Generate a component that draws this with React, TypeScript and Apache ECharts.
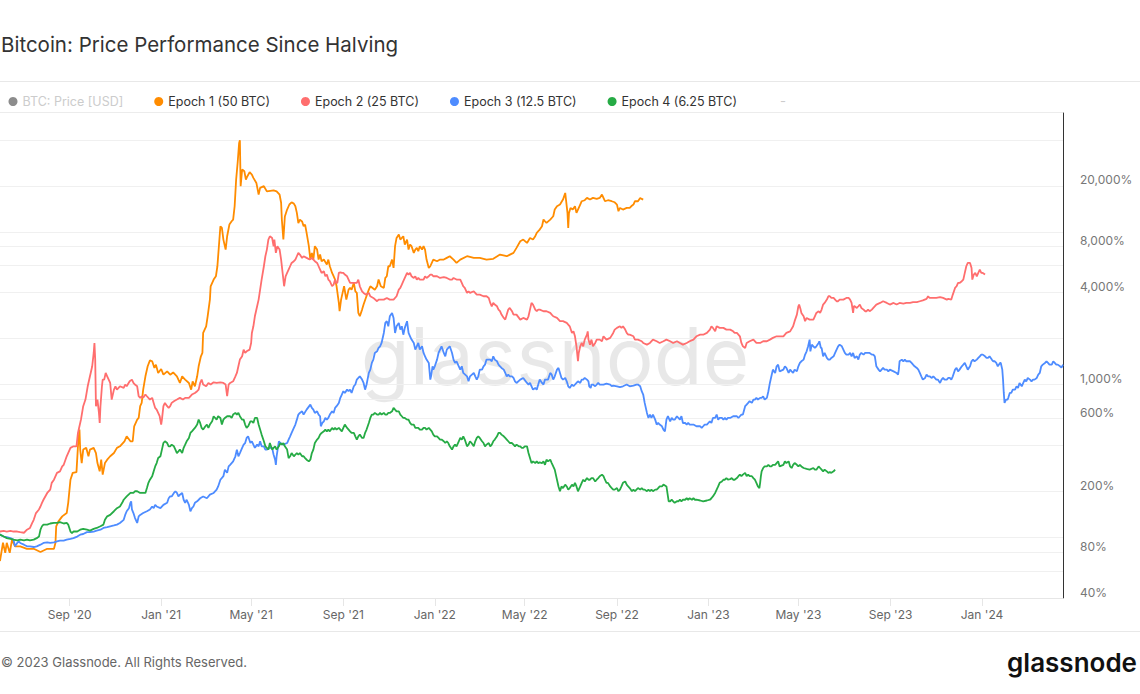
import React, { useEffect, useRef } from 'react';
import * as echarts from 'echarts';

// ---------- data (days since halving, performance in %) ----------
const HALVING_START = Date.UTC(2020, 4, 11);
const DAY_MS = 86400000;
const X_MAX_DAY = 1438;

const xTickDates = ['2020-09-01', '2021-01-01', '2021-05-01', '2021-09-01', '2022-01-01', '2022-05-01', '2022-09-01', '2023-01-01', '2023-05-01', '2023-09-01', '2024-01-01'];
const yGridValues = [40, 60, 80, 100, 200, 400, 600, 800, 1000, 2000, 4000, 6000, 8000, 10000, 20000, 40000];
const yLabelValues = [40, 80, 200, 600, 1000, 4000, 8000, 20000];

const seriesNames = ['BTC: Price [USD]', 'Epoch 1 (50 BTC)', 'Epoch 2 (25 BTC)', 'Epoch 3 (12.5 BTC)', 'Epoch 4 (6.25 BTC)'];
const seriesColors = ['#8c8c8c', '#ff8c00', '#ff6e6e', '#4e8cff', '#26ab45'];

const btcPrice: [number, number][] = [];

const epoch1: [number, number][] = [
  [0, 100], [20, 70], [24, 92], [27, 79], [29, 92], [33, 79], [36, 96], [40, 87], [47, 87], [56, 84], [65, 84], [74, 80], [83, 84], [92, 84], [94, 92], [95, 118], [98, 127], [103, 137], [109, 144], [111, 168], [114, 238], [117, 264], [122, 267], [124, 394], [126, 507], [127, 375], [129, 306], [131, 375], [135, 385], [138, 339], [140, 375], [145, 385], [148, 356], [150, 306], [153, 270], [155, 322], [157, 257], [160, 306], [163, 322], [167, 339], [172, 356], [176, 385], [180, 394], [186, 425], [189, 458], [194, 425], [197, 425], [199, 533], [203, 589], [205, 604], [207, 721], [209, 758], [211, 926], [214, 1132], [217, 1317], [220, 1440], [223, 1420], [226, 1284], [228, 1350], [231, 1191], [235, 1264], [238, 1160], [243, 1220], [247, 1160], [251, 1200], [256, 1132], [260, 1024], [263, 1132], [267, 1077], [272, 1024], [275, 926], [277, 1050], [280, 974], [283, 1132], [285, 1317], [288, 1531], [290, 1610], [291, 2177], [295, 2407], [297, 2799], [300, 3599], [301, 4401], [305, 4867], [308, 5117], [310, 5951], [312, 8045], [314, 10877], [316, 10600], [318, 8896], [321, 7651], [323, 9355], [326, 11150], [329, 11730], [331, 12027], [333, 14707], [335, 21986], [337, 28270], [339, 38224], [340, 39800], [341, 19882], [343, 25566], [346, 24900], [348, 22000], [350, 23120], [353, 24560], [356, 23700], [358, 22550], [362, 20907], [365, 17540], [367, 19390],
  [372, 19900], [376, 18400], [385, 18700], [389, 18400], [393, 17500], [395, 15500], [396, 12000], [398, 8900], [400, 12600], [403, 14000], [406, 15100], [409, 15600], [412, 15300], [414, 14700], [416, 13300], [418, 11400], [420, 12000], [423, 11700], [425, 10900], [427, 11150], [429, 9840], [432, 8050], [434, 6580], [436, 7280], [438, 6580], [440, 8050], [443, 7650], [445, 6580], [447, 7100], [449, 6420], [452, 6580], [456, 6100], [458, 6580], [460, 5950], [463, 5380], [465, 5120], [467, 4870], [469, 4400], [472, 3420], [473, 3020], [475, 3600], [477, 3980], [479, 4400], [482, 3600], [485, 4180], [487, 4290], [489, 4180], [492, 4630], [494, 4080], [496, 3980], [498, 2944], [500, 2800], [503, 3095], [505, 3340], [508, 3690], [512, 4180], [514, 4400], [517, 4290], [520, 4180], [523, 4400], [525, 4870], [528, 4400], [532, 4290], [534, 4990], [536, 5120], [538, 5950], [540, 5950], [543, 6580], [545, 5800], [547, 8050], [549, 9120], [552, 9590], [554, 8900], [556, 9120], [558, 9355], [560, 8250], [563, 8900], [565, 7650], [567, 8250], [569, 8050], [572, 7280], [574, 7650], [576, 7850], [578, 7460], [580, 8050], [583, 7650], [585, 8050], [587, 7650], [589, 6580], [592, 5800], [594, 5950], [596, 6260], [598, 6580], [603, 6420], [607, 6580], [612, 6580], [616, 6750], [620, 6920], [625, 6580], [629, 6260], [634, 6580], [643, 6920], [652, 6750], [660, 6750], [669, 6580], [678, 6660], [687, 7100], [696, 6920], [705, 7280], [709, 7850],
  [714, 8680], [718, 8900], [723, 8460], [727, 9120], [731, 8900], [734, 9355], [736, 9840], [738, 10090], [740, 10340], [743, 10880], [745, 12030], [747, 11730], [749, 11440], [754, 12030], [758, 12650], [760, 13990], [763, 14700], [767, 15080], [771, 16260], [774, 17980], [775, 16260], [777, 13300], [778, 10600], [779, 13300], [781, 14340], [784, 13990], [787, 14700], [789, 13300], [791, 13990], [794, 15080], [796, 15860], [800, 16100], [803, 16680], [807, 16260], [811, 16680], [816, 16430], [820, 16680], [823, 17540], [825, 16680], [827, 15860], [831, 16100], [836, 15860], [840, 15620], [843, 15080], [845, 13640], [847, 14340], [851, 13990], [856, 14340], [860, 14340], [862, 14700], [865, 15080], [867, 15860], [871, 15860], [874, 16680], [876, 16430], [878, 16260],
];

const epoch2: [number, number][] = [
  [0, 100], [20, 109], [25, 110], [29, 109], [34, 110], [38, 109], [43, 109], [47, 108], [52, 107], [56, 112], [60, 115], [63, 124], [65, 130], [68, 144], [72, 152], [74, 159], [76, 168], [78, 176], [83, 195], [87, 205], [89, 227], [92, 238], [96, 264], [100, 270], [103, 291], [105, 298], [109, 339], [114, 385], [118, 394], [122, 394], [124, 482], [126, 533], [128, 589], [131, 721], [134, 797], [137, 974], [140, 1132], [141, 1191], [143, 1317], [145, 1610], [146, 1872], [147, 1456], [148, 721], [150, 797], [152, 652], [153, 560], [154, 721], [156, 974], [157, 1077], [159, 1077], [161, 1191], [163, 1132], [165, 1077], [167, 1024], [169, 797], [172, 926], [174, 974], [176, 926], [180, 974], [185, 950], [187, 1000], [189, 974], [193, 1050], [196, 1077], [198, 1024], [200, 1000], [203, 974], [205, 838], [207, 818], [209, 838], [211, 818], [214, 860], [216, 838], [220, 797], [223, 818], [225, 758], [227, 703], [229, 685], [233, 620], [235, 547], [236, 589], [238, 721], [240, 758], [243, 721], [245, 703], [247, 721], [249, 758], [252, 778], [256, 797], [260, 818], [264, 797], [267, 818], [272, 818], [276, 860], [280, 881], [283, 904], [285, 926], [287, 1024], [289, 1077], [291, 1000], [295, 974], [298, 1024], [301, 1000], [305, 1034], [309, 1024], [314, 1034], [318, 1024], [321, 1000], [323, 838], [325, 1000], [327, 1024], [331, 1050], [334, 1132], [336, 1191], [338, 1317], [340, 1456], [343, 1531], [345, 1693], [347, 1610], [349, 1650], [353, 1693], [355, 1872], [356, 2177], [358, 2407], [360, 2799], [363, 3255], [365, 3599], [367, 4185], [369, 4867], [372, 5951], [374, 6919], [376, 7651], [378, 8896], [380, 9355],
  [383, 9120], [385, 8045], [386, 8896], [388, 7276], [390, 8045], [393, 7651], [395, 6580], [397, 5381], [399, 4401], [401, 5117], [403, 5381], [405, 5659], [407, 5951], [409, 6257], [412, 6420], [414, 6580], [416, 6919], [418, 7276], [420, 7100], [423, 6750], [425, 6919], [429, 6750], [433, 6580], [436, 6750], [438, 6580], [440, 6420], [443, 6257], [445, 5951], [447, 5659], [449, 5381], [452, 5520], [454, 5117], [456, 5250], [458, 4867], [460, 4750], [463, 4401], [465, 4510], [467, 4867], [468, 4628], [470, 4628], [472, 5381], [474, 5430], [476, 5381], [478, 5381], [480, 5250], [483, 5117], [485, 4867], [487, 4628], [492, 4628], [496, 4628], [498, 4867], [500, 4401], [503, 4080], [505, 3980], [508, 3880], [512, 3980], [514, 3785], [518, 3690], [523, 3510], [525, 3599], [527, 3599], [532, 3599], [536, 3690], [540, 3599], [545, 3599], [549, 3785], [552, 4185], [554, 4290], [556, 4510], [558, 4750], [560, 4990], [563, 5381], [565, 5250], [567, 5381], [569, 5117], [572, 4990], [574, 5117], [576, 4867], [578, 4990], [580, 4867], [585, 4867], [587, 5117], [589, 4990], [592, 5117], [594, 5250], [596, 5250], [598, 5117], [603, 5117], [607, 4990], [612, 5050], [616, 4990], [620, 4867], [623, 4867], [625, 4990], [629, 4867], [634, 4867], [636, 4628], [638, 4401], [640, 4290], [643, 3980], [645, 4080], [647, 3980], [652, 4080], [656, 3880], [660, 3880], [665, 3785], [669, 3785], [672, 3690], [674, 3423], [676, 3255], [678, 3423], [680, 3340], [683, 3255], [685, 3095], [687, 3020], [689, 2870], [692, 2730], [694, 2662], [696, 2870], [698, 3095], [700, 3175], [703, 3020], [705, 2870], [709, 2870], [714, 2662], [718, 2730],
  [723, 2662], [725, 2799], [727, 3095], [729, 3423], [731, 3340], [734, 3095], [736, 3020], [738, 3095], [740, 3095], [745, 3020], [749, 3020], [754, 2944], [756, 2870], [758, 2799], [763, 2730], [767, 2600], [771, 2600], [776, 2532], [780, 2407], [783, 2177], [785, 2230], [787, 2070], [789, 1780], [791, 1420], [792, 1610], [794, 1780], [796, 1872], [798, 1780], [800, 1969], [803, 2120], [804, 2230], [805, 1969], [807, 1825], [809, 1969], [811, 1780], [814, 1872], [816, 1969], [820, 1969], [823, 1920], [825, 2070], [829, 1969], [834, 2020], [838, 2177], [840, 2289], [843, 2350], [847, 2407], [849, 2350], [851, 2407], [854, 2289], [856, 2177], [858, 2120], [860, 2120], [865, 2070], [867, 1969], [871, 1969], [876, 1920], [878, 1872], [883, 1825], [887, 1872], [891, 1969], [896, 1920], [900, 1872], [905, 1920], [909, 1969], [914, 1920], [918, 1872], [923, 1920], [927, 1872], [931, 1825], [936, 1872], [940, 1920], [945, 1969], [949, 2070], [954, 2120], [958, 2120], [963, 2177], [967, 2289], [969, 2407], [971, 2350], [974, 2230], [976, 2407], [980, 2350], [985, 2350], [989, 2289], [994, 2289], [998, 2230], [1000, 2177], [1003, 2177], [1007, 2070], [1009, 1872], [1011, 1780], [1014, 1736], [1016, 1872], [1020, 1920], [1025, 1969], [1029, 1872], [1034, 1872], [1038, 1920], [1043, 1920], [1047, 1969], [1051, 2020], [1056, 2070], [1060, 2070],
  [1065, 2070], [1069, 2177], [1074, 2230], [1078, 2407], [1080, 2600], [1083, 2870], [1085, 3255], [1086, 3340], [1088, 3095], [1089, 2944], [1092, 2799], [1094, 2600], [1096, 2730], [1100, 2662], [1105, 2662], [1107, 2799], [1109, 2944], [1112, 3020], [1114, 2944], [1116, 3095], [1118, 3340], [1120, 3423], [1123, 3599], [1125, 3785], [1127, 3785], [1129, 3690], [1132, 3690], [1134, 3599], [1136, 3510], [1138, 3510], [1140, 3599], [1145, 3599], [1149, 3690], [1152, 3690], [1154, 3599], [1156, 3423], [1158, 2944], [1159, 3255], [1160, 3255], [1163, 3175], [1165, 3255], [1167, 3340], [1169, 3175], [1172, 3095], [1174, 3020], [1176, 3020], [1178, 3095], [1180, 3020], [1183, 3095], [1185, 3175], [1189, 3340], [1194, 3423], [1198, 3510], [1203, 3423], [1207, 3340], [1212, 3423], [1216, 3340], [1220, 3423], [1225, 3390], [1229, 3423], [1234, 3423], [1238, 3460], [1243, 3460], [1247, 3510], [1251, 3560], [1256, 3640], [1258, 3785], [1260, 3690], [1265, 3690], [1269, 3690], [1274, 3730], [1278, 3690], [1283, 3599], [1285, 3640], [1289, 3599], [1291, 3880], [1294, 4290], [1296, 4401], [1298, 4628], [1300, 4628], [1303, 4750], [1305, 4867], [1307, 5381], [1309, 5951], [1311, 6257], [1314, 6257], [1316, 5800], [1317, 4867], [1319, 5250], [1321, 5381], [1323, 5117], [1325, 5381], [1327, 5659], [1329, 5381], [1331, 5381], [1334, 5250],
];

const epoch3: [number, number][] = [
  [0, 100], [20, 104], [25, 101], [29, 100], [34, 98.6], [38, 96.4], [40, 87.2], [43, 91.7], [45, 94], [47, 91.7], [52, 89.4], [56, 87.2], [60, 87.2], [65, 86.3], [69, 87.2], [74, 89.4], [78, 91.7], [83, 92.6], [87, 91.7], [92, 92.6], [96, 94], [100, 95], [105, 95], [109, 96.4], [114, 97.5], [118, 98.6], [123, 101], [127, 104], [131, 105], [136, 108], [140, 108], [145, 109], [149, 110.5], [154, 112], [158, 115], [163, 116.6], [167, 118], [172, 119.4], [176, 121], [180, 124], [185, 130], [187, 140], [189, 148], [192, 155], [194, 168], [195, 172], [196, 152], [198, 144], [200, 134], [203, 124], [205, 137], [207, 140], [211, 144], [216, 148], [220, 152], [223, 159], [225, 155], [227, 163], [229, 159], [234, 155], [238, 163], [243, 168], [245, 180], [247, 185], [249, 185], [252, 195], [254, 200], [256, 195], [258, 185], [260, 190], [263, 195], [265, 176], [267, 168], [269, 176], [272, 163], [274, 148], [276, 155], [278, 159], [280, 168], [283, 172], [287, 180], [291, 185], [296, 180], [300, 190], [305, 195], [309, 205], [311, 215], [314, 238], [318, 251], [320, 277], [323, 264], [325, 291], [327, 298], [331, 314], [334, 339], [336, 375], [338, 339], [340, 356], [343, 385], [345, 404], [347, 414], [349, 447], [351, 458], [354, 414], [356, 425], [358, 404], [360, 385], [363, 404], [365, 394], [367, 425], [369, 394], [372, 394], [374, 375], [376, 375], [380, 385],
  [383, 385], [385, 347], [387, 322], [388, 298], [389, 339], [392, 425], [394, 414], [398, 404], [403, 414], [405, 436], [407, 458], [409, 482], [412, 520], [414, 547], [416, 589], [418, 636], [420, 652], [423, 668], [425, 636], [429, 685], [434, 739], [436, 703], [438, 685], [440, 652], [443, 668], [445, 636], [447, 620], [448, 533], [450, 560], [452, 574], [454, 604], [456, 589], [458, 604], [460, 636], [463, 668], [465, 652], [467, 703], [469, 721], [472, 758], [474, 818], [476, 860], [478, 904], [480, 881], [483, 926], [485, 904], [487, 926], [489, 881], [492, 974], [494, 1000], [496, 1077], [498, 1104], [500, 1132], [503, 1077], [505, 1024], [507, 926], [509, 1000], [512, 1191], [514, 1252], [516, 1385], [518, 1456], [520, 1610], [523, 1650], [525, 1736], [527, 1780], [529, 1872], [532, 2177], [534, 2532], [536, 2600], [538, 2407], [540, 2799], [543, 2944], [545, 2730], [547, 2177], [549, 2407], [552, 2532], [554, 2289], [556, 2407], [558, 2120], [560, 2350], [563, 2600], [565, 2177], [567, 2070], [569, 1969], [572, 1872], [574, 1693], [576, 1780], [578, 1872], [580, 1693], [583, 1780], [585, 1610], [587, 1531], [589, 1456], [592, 1385], [594, 1077], [595, 1132], [597, 1317], [598, 1252], [600, 1317], [603, 1456], [605, 1610], [607, 1693], [609, 1780], [612, 1610], [614, 1531], [616, 1693], [618, 1736], [620, 1780], [623, 1610], [625, 1456], [627, 1385], [629, 1420], [632, 1317], [634, 1252], [636, 1317], [638, 1191], [643, 1132], [645, 1050], [647, 1132], [652, 1191], [654, 1132], [656, 1077], [658, 1132], [660, 1252], [663, 1252], [665, 1317], [667, 1350], [669, 1456], [674, 1456], [676, 1420], [678, 1531], [680, 1456], [683, 1420], [685, 1350], [687, 1317], [689, 1284], [692, 1252], [694, 1191], [696, 1132], [698, 1160], [700, 1132], [703, 1132], [705, 1104], [707, 1050], [709, 1024], [714, 1077], [718, 1104], [723, 1024], [725, 1000], [727, 1024],
  [731, 926], [734, 950], [736, 926], [738, 1000], [740, 1077], [743, 1024], [745, 1000], [747, 1077], [749, 1077], [751, 1077], [754, 1191], [756, 1160], [758, 1077], [760, 1132], [763, 1252], [765, 1284], [767, 1191], [769, 1104], [771, 1077], [774, 1104], [776, 1050], [778, 974], [780, 950], [783, 1000], [785, 974], [787, 1000], [789, 1024], [791, 1050], [794, 1024], [796, 1077], [798, 1077], [800, 1104], [803, 1077], [805, 1050], [806, 974], [808, 950], [809, 1000], [811, 1000], [814, 974], [816, 1000], [818, 1024], [820, 1000], [825, 1000], [829, 1014], [834, 1000], [836, 974], [838, 985], [843, 974], [847, 962], [851, 974], [856, 1000], [860, 974], [865, 985], [869, 1000], [871, 1000], [874, 974], [876, 904], [878, 860], [880, 758], [883, 652], [885, 604], [887, 636], [889, 604], [891, 636], [894, 589], [896, 547], [898, 560], [900, 547], [903, 533], [905, 507], [907, 494], [909, 589], [911, 620], [914, 574], [916, 604], [918, 589], [920, 589], [923, 620], [925, 604], [927, 589], [929, 620], [931, 560], [934, 560], [936, 547], [938, 560], [940, 547], [945, 547], [949, 533], [954, 533], [956, 520], [958, 533], [960, 547], [963, 547], [965, 560], [967, 574], [969, 560], [971, 604], [974, 604], [976, 636], [978, 589], [980, 604], [983, 604], [985, 589], [987, 604], [989, 589], [991, 604], [994, 604], [998, 620], [1003, 620], [1005, 604], [1007, 620], [1009, 636], [1011, 636], [1014, 721], [1016, 739], [1018, 758], [1020, 778], [1023, 758], [1025, 797], [1027, 797], [1029, 818], [1031, 797], [1034, 818], [1036, 818], [1038, 838], [1040, 797], [1043, 818], [1045, 904], [1047, 1024], [1049, 1132], [1051, 1252], [1054, 1191], [1056, 1317], [1058, 1350], [1060, 1220],
  [1065, 1252], [1067, 1317], [1069, 1284], [1072, 1191], [1074, 1252], [1076, 1220], [1078, 1191], [1080, 1252], [1083, 1220], [1085, 1317], [1087, 1385], [1089, 1420], [1092, 1456], [1094, 1570], [1096, 1650], [1098, 1780], [1100, 1969], [1101, 1650], [1103, 1825], [1105, 1780], [1107, 1736], [1109, 1780], [1112, 1872], [1113, 1920], [1115, 1736], [1116, 1736], [1118, 1531], [1120, 1610], [1123, 1493], [1125, 1456], [1127, 1456], [1129, 1493], [1132, 1531], [1134, 1610], [1136, 1693], [1138, 1780], [1140, 1825], [1143, 1780], [1145, 1693], [1147, 1610], [1149, 1570], [1152, 1570], [1154, 1610], [1156, 1531], [1158, 1610], [1160, 1493], [1163, 1531], [1165, 1456], [1167, 1570], [1169, 1610], [1172, 1570], [1174, 1610], [1176, 1610], [1180, 1610], [1183, 1570], [1185, 1570], [1187, 1531], [1189, 1317], [1192, 1252], [1194, 1220], [1196, 1252], [1198, 1284], [1200, 1252], [1203, 1252], [1205, 1220], [1207, 1252], [1212, 1220], [1216, 1191], [1218, 1160], [1219, 1252], [1220, 1420], [1223, 1456], [1225, 1420], [1227, 1456], [1229, 1420], [1231, 1420], [1234, 1420], [1236, 1385], [1238, 1350], [1240, 1317], [1243, 1284], [1245, 1252], [1247, 1191], [1249, 1132], [1251, 1077], [1254, 1104], [1256, 1160], [1258, 1132], [1260, 1132], [1263, 1104], [1265, 1132], [1267, 1104], [1269, 1077], [1271, 1077], [1274, 1024], [1276, 1077], [1278, 1104], [1280, 1077], [1283, 1077], [1285, 1104], [1287, 1104], [1289, 1077], [1291, 1132], [1294, 1252], [1296, 1284], [1298, 1220], [1300, 1252], [1303, 1317], [1305, 1350], [1307, 1385], [1309, 1317], [1311, 1252], [1314, 1317], [1316, 1420], [1318, 1456], [1320, 1420], [1323, 1456], [1325, 1493], [1327, 1531], [1329, 1570], [1331, 1570], [1334, 1531], [1336, 1493], [1338, 1493], [1340, 1531], [1343, 1456], [1345, 1420], [1347, 1420], [1349, 1385], [1351, 1317], [1354, 1385], [1355, 1385], [1357, 1252], [1358, 1077], [1359, 881], [1360, 758], [1362, 797], [1364, 797], [1365, 818], [1367, 881], [1369, 881], [1371, 926], [1374, 926], [1376, 974], [1378, 950], [1380, 1024], [1383, 974], [1385, 1024], [1387, 1077], [1389, 1050], [1391, 1104], [1394, 1077], [1396, 1050], [1398, 1077], [1400, 1077], [1403, 1104], [1405, 1160], [1407, 1191], [1409, 1317], [1411, 1350], [1414, 1385], [1416, 1420], [1418, 1385], [1420, 1350], [1423, 1350], [1425, 1420], [1427, 1385], [1429, 1350], [1431, 1350], [1434, 1317], [1436, 1290], [1438, 1350],
];

const epoch4: [number, number][] = [
  [0, 100], [20, 104], [25, 101], [29, 98.6], [34, 97.5], [38, 96.4], [43, 95.3], [47, 96.4], [52, 95.3], [56, 96.4], [60, 95.3], [65, 96.4], [69, 98.6], [72, 101], [74, 112], [76, 118], [78, 121], [83, 121], [87, 123], [92, 124], [96, 124], [100, 125.5], [105, 123], [109, 124], [111, 121], [114, 109], [116, 106.6], [118, 109], [123, 109], [127, 112], [131, 113.5], [136, 112], [140, 110.5], [145, 113.5], [149, 115], [154, 118], [158, 121], [160, 130], [163, 137], [167, 140], [172, 148], [176, 155], [180, 159], [183, 168], [185, 176], [189, 185], [194, 195], [196, 195], [198, 195], [200, 200], [203, 200], [207, 195], [211, 195], [214, 195], [216, 210], [218, 227], [220, 238], [223, 251], [225, 270], [227, 291], [229, 306], [231, 330], [234, 339], [236, 375], [238, 414], [240, 425], [243, 414], [245, 394], [247, 394], [249, 404], [252, 394], [254, 375], [256, 356], [258, 365], [260, 375], [263, 356], [265, 385], [267, 404], [269, 425], [272, 447], [274, 482], [276, 494], [278, 507], [280, 520], [283, 547], [285, 589], [287, 560], [289, 520], [291, 507], [294, 533], [296, 547], [298, 520], [300, 547], [303, 574], [305, 620], [307, 604], [309, 589], [311, 620], [314, 604], [316, 547], [318, 589], [320, 604], [323, 620], [327, 620], [329, 604], [331, 636], [334, 652], [336, 636], [338, 652], [340, 620], [343, 589], [345, 589], [347, 547], [349, 520], [351, 533], [354, 574], [356, 574], [358, 560], [360, 604], [363, 604], [365, 547], [367, 507], [369, 470], [372, 425], [374, 394], [376, 385], [378, 375], [380, 414],
  [383, 375], [385, 385], [387, 394], [389, 375], [392, 394], [394, 414], [396, 404], [398, 414], [400, 394], [403, 375], [405, 330], [407, 339], [409, 356], [412, 339], [414, 347], [416, 356], [418, 347], [420, 356], [423, 339], [425, 339], [427, 330], [429, 322], [432, 314], [434, 322], [436, 356], [438, 375], [440, 414], [443, 436], [445, 447], [447, 470], [449, 482], [452, 494], [454, 507], [456, 494], [458, 507], [460, 494], [463, 520], [465, 507], [467, 520], [469, 507], [472, 520], [474, 507], [476, 494], [478, 520], [480, 547], [483, 520], [485, 507], [487, 494], [489, 482], [492, 482], [494, 458], [496, 436], [498, 458], [500, 470], [503, 447], [505, 447], [507, 482], [509, 507], [512, 560], [514, 604], [516, 636], [518, 636], [520, 652], [523, 636], [525, 636], [527, 652], [529, 636], [532, 652], [534, 636], [536, 636], [538, 652], [540, 652], [543, 668], [545, 703], [547, 685], [549, 668], [552, 668], [554, 636], [556, 620], [558, 604], [560, 604], [563, 589], [565, 589], [567, 560], [569, 547], [572, 547], [574, 520], [576, 520], [578, 520], [580, 507], [583, 507], [585, 520], [587, 520], [589, 507], [592, 520], [594, 507], [596, 494], [598, 470], [600, 458], [603, 458], [605, 447], [607, 436], [609, 436], [612, 425], [614, 414], [616, 425], [618, 414], [620, 394], [623, 375], [625, 394], [627, 404], [629, 394], [632, 425], [634, 447], [636, 436], [638, 458], [640, 436], [643, 394], [645, 404], [647, 425], [649, 414], [652, 394], [654, 425], [656, 447], [658, 458], [660, 447], [663, 425], [665, 414], [667, 394], [669, 404], [672, 414], [674, 394], [676, 404], [678, 425], [680, 436], [683, 458], [685, 482], [687, 482], [689, 470], [692, 458], [694, 447], [696, 436], [698, 425], [700, 414], [703, 414], [705, 404], [707, 394], [709, 404], [712, 394], [714, 394], [716, 385], [718, 385], [720, 394],
  [723, 394], [725, 356], [727, 330], [729, 306], [731, 314], [734, 306], [736, 314], [738, 306], [740, 309], [743, 306], [745, 314], [747, 298], [749, 322], [751, 314], [754, 322], [756, 306], [758, 291], [760, 277], [763, 238], [765, 215], [767, 200], [769, 215], [771, 210], [774, 221], [776, 215], [778, 205], [780, 210], [783, 221], [785, 215], [787, 227], [789, 215], [791, 200], [794, 215], [796, 227], [798, 238], [800, 232], [803, 244], [805, 238], [807, 238], [809, 244], [811, 244], [814, 232], [816, 238], [818, 244], [820, 251], [823, 257], [825, 251], [827, 238], [829, 227], [831, 227], [834, 215], [836, 210], [838, 205], [840, 205], [843, 210], [845, 200], [847, 205], [849, 215], [851, 227], [854, 232], [856, 221], [858, 215], [860, 210], [863, 200], [865, 205], [867, 200], [869, 205], [871, 210], [874, 205], [876, 210], [878, 205], [880, 205], [883, 200], [885, 205], [887, 200], [889, 205], [891, 200], [894, 205], [896, 205], [898, 210], [900, 215], [903, 215], [905, 221], [907, 218], [909, 215], [911, 185], [912, 172], [914, 172], [916, 176], [918, 172], [920, 168], [923, 172], [925, 172], [927, 176], [929, 172], [931, 176], [934, 176], [936, 180], [938, 176], [940, 180], [943, 176], [945, 180], [947, 176], [949, 176], [954, 174], [958, 172], [963, 174], [967, 176], [969, 180], [971, 185], [974, 195], [976, 205], [978, 215], [980, 227], [983, 232], [985, 238], [987, 238], [989, 244], [991, 238], [994, 240], [996, 244], [998, 238], [1000, 238], [1003, 244], [1005, 251], [1007, 257], [1009, 251], [1011, 257], [1014, 264], [1016, 251], [1018, 257], [1020, 251], [1023, 251], [1025, 244], [1027, 238], [1029, 227], [1031, 215], [1033, 210], [1034, 227], [1035, 251], [1036, 270], [1038, 284], [1040, 291], [1043, 291], [1045, 298], [1047, 291], [1049, 291], [1051, 298], [1054, 298], [1056, 306], [1058, 314],
  [1060, 291], [1065, 298], [1067, 314], [1069, 306], [1072, 314], [1074, 291], [1076, 284], [1078, 298], [1080, 306], [1083, 298], [1085, 291], [1087, 298], [1089, 291], [1092, 284], [1096, 280], [1100, 277], [1105, 284], [1107, 277], [1109, 277], [1112, 291], [1114, 284], [1116, 277], [1118, 270], [1120, 277], [1123, 270], [1125, 264], [1127, 267], [1129, 264], [1132, 270], [1134, 277],
];

// ---------- chart ----------
const FONT = 'Inter, "Noto Sans", "DejaVu Sans", sans-serif';
const MONTHS = ['Jan', 'Feb', 'Mar', 'Apr', 'May', 'Jun', 'Jul', 'Aug', 'Sep', 'Oct', 'Nov', 'Dec'];
const OFFSET = 30; // the chart canvas starts 30px left of the page edge (plot is cropped at the left)
const W = 1140 + OFFSET;
const H = 694;

const toTime = (d: string) => {
  const [y, m, dd] = d.split('-').map(Number);
  return Date.UTC(y, m - 1, dd);
};
const toSeries = (arr: [number, number][]) => arr.map(([d, v]) => [HALVING_START + d * DAY_MS, v]);

export default function App() {
  const ref = useRef<HTMLDivElement>(null);

  useEffect(() => {
    document.body.style.margin = '0';
    document.body.style.overflow = 'hidden';
    if (!ref.current) return;
    const chart = echarts.init(ref.current, null, { renderer: 'svg' });
    const xTicks = xTickDates.map(toTime);
    const datasets = [btcPrice, epoch1, epoch2, epoch3, epoch4];

    chart.setOption({
      animation: false,
      backgroundColor: '#ffffff',
      textStyle: { fontFamily: FONT },
      title: {
        text: 'Bitcoin: Price Performance Since Halving',
        left: OFFSET + 1,
        top: 34,
        padding: 0,
        textStyle: { fontFamily: FONT, fontSize: 20.5, fontWeight: 'normal', color: '#333333' },
      },
      legend: {
        left: OFFSET + 3.5,
        top: 90,
        icon: 'circle',
        itemWidth: 9,
        itemHeight: 9,
        itemGap: 31,
        selectedMode: false,
        textStyle: { fontFamily: FONT, fontSize: 12.5, color: '#333333' },
        data: seriesNames.map((name, i) =>
          i === 0
            ? { name, itemStyle: { color: '#8c8c8c' }, textStyle: { color: '#cccccc' } }
            : { name }
        ),
      },
      grid: {
        left: OFFSET - 15,
        right: W - (1063 + OFFSET),
        top: 113,
        bottom: H - 598,
        containLabel: false,
        outerBoundsMode: 'none',
      },
      xAxis: {
        type: 'value',
        min: HALVING_START,
        max: HALVING_START + X_MAX_DAY * DAY_MS,
        axisLine: { show: true, onZero: false, lineStyle: { color: '#e6e6e6', width: 1 } },
        axisTick: { show: true, customValues: xTicks, length: 8, lineStyle: { color: '#e6e6e6' } },
        axisLabel: {
          customValues: xTicks,
          color: '#666666',
          fontSize: 12,
          fontFamily: FONT,
          margin: 10,
          formatter: (v: number) => {
            const d = new Date(v);
            return `${MONTHS[d.getUTCMonth()]} '${String(d.getUTCFullYear()).slice(2)}`;
          },
        },
        splitLine: { show: false },
      },
      yAxis: {
        type: 'log',
        logBase: 10,
        position: 'right',
        min: 40,
        max: 60000,
        axisLine: { show: true, lineStyle: { color: '#333333', width: 1 } },
        axisTick: { show: false, customValues: yGridValues },
        axisLabel: {
          customValues: yLabelValues,
          color: '#777777',
          fontSize: 12,
          fontFamily: FONT,
          margin: 17,
          verticalAlign: 'bottom',
          formatter: (v: number) => `${Math.round(v).toLocaleString('en-US')}%`,
        },
        splitLine: { show: true, lineStyle: { color: '#f0f0f0', width: 1 } },
      },
      graphic: [
        { type: 'line', silent: true, shape: { x1: 0, y1: 81.5, x2: W, y2: 81.5 }, style: { stroke: '#e8e8e8', lineWidth: 1 } },
        { type: 'line', silent: true, shape: { x1: 0, y1: 112.5, x2: 1063 + OFFSET, y2: 112.5 }, style: { stroke: '#ececec', lineWidth: 1 } },
        { type: 'line', silent: true, shape: { x1: 0, y1: 631.5, x2: W, y2: 631.5 }, style: { stroke: '#e8e8e8', lineWidth: 1 } },
        {
          type: 'text', silent: true, z: 0, x: 555 + OFFSET, y: 355,
          style: { text: 'glassnode', fill: 'rgba(0,0,0,0.09)', fontSize: 80, fontFamily: FONT, fontWeight: 400, align: 'center', verticalAlign: 'middle' },
        },
        {
          type: 'text', silent: true, x: 783 + OFFSET, y: 101,
          style: { text: '-', fill: '#cccccc', fontSize: 13, fontFamily: FONT, align: 'center', verticalAlign: 'middle' },
        },
        {
          type: 'text', silent: true, x: OFFSET + 1, y: 662,
          style: { text: '© 2023 Glassnode. All Rights Reserved.', fill: '#666666', fontSize: 13, fontFamily: FONT, verticalAlign: 'middle' },
        },
        {
          type: 'text', silent: true, x: 1137 + OFFSET, y: 662,
          style: { text: 'glassnode', fill: '#111111', fontSize: 26, fontWeight: 600, fontFamily: FONT, align: 'right', verticalAlign: 'middle' },
        },
      ],
      series: datasets.map((arr, i) => ({
        name: seriesNames[i],
        type: 'line',
        data: toSeries(arr),
        showSymbol: false,
        symbol: 'none',
        color: seriesColors[i],
        lineStyle: { width: 1.8, color: seriesColors[i] },
        emphasis: { disabled: true },
        z: 2 + i,
      })),
    });
    return () => chart.dispose();
  }, []);

  return <div ref={ref} style={{ position: 'absolute', left: -OFFSET, top: 0, width: W, height: H }} />;
}
